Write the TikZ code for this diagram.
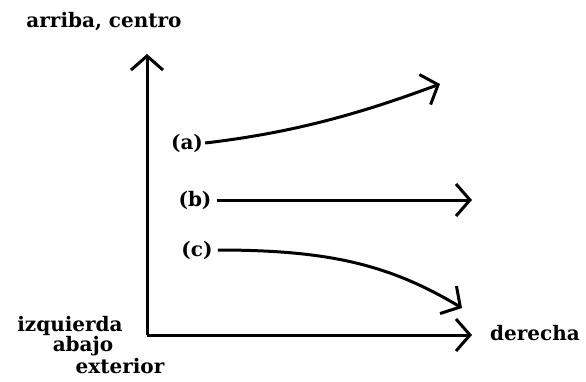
\documentclass[tikz,border=0pt]{standalone}
\usepackage{fontspec}
\setmainfont{DejaVu Serif}
\usetikzlibrary{arrows.meta}
\begin{document}
\begin{tikzpicture}[x=1pt,y=-1pt,
  lbl/.style={font=\bfseries\fontsize{20}{20}\selectfont, inner sep=0pt},
  ln/.style={line width=3pt, -{Straight Barb[length=14pt,width=32pt,line width=3pt]}}]
\useasboundingbox (0,0) rectangle (586,381);
\coordinate (O) at (147,335);
\coordinate (Y) at (147,54);
\coordinate (X) at (472,335);
\draw[ln] (O) -- (Y);
\draw[ln] (O) -- (X);
\node[lbl] (top) at (104,22) {arriba, centro};
\node[lbl] (izq) at (70,326) {izquierda};
\node[lbl] (aba) at (83,346) {abajo};
\node[lbl] (ext) at (120,366) {exterior};
\node[lbl] (der) at (535,333) {derecha};
\node[lbl] (a) at (187,143) {(a)};
\node[lbl] (b) at (195,200) {(b)};
\node[lbl] (c) at (197,250) {(c)};
\coordinate (aend) at (440,84);
\coordinate (bend) at (472,200);
\coordinate (cend) at (462,308);
\draw[ln] ([xshift=2pt]a.east) .. controls (300,132) and (370,110) .. (aend);
\draw[ln] ([xshift=5pt]b.east) -- (bend);
\draw[ln] ([xshift=5pt]c.east) .. controls (330,250) and (390,265) .. (cend);
\end{tikzpicture}
\end{document}
